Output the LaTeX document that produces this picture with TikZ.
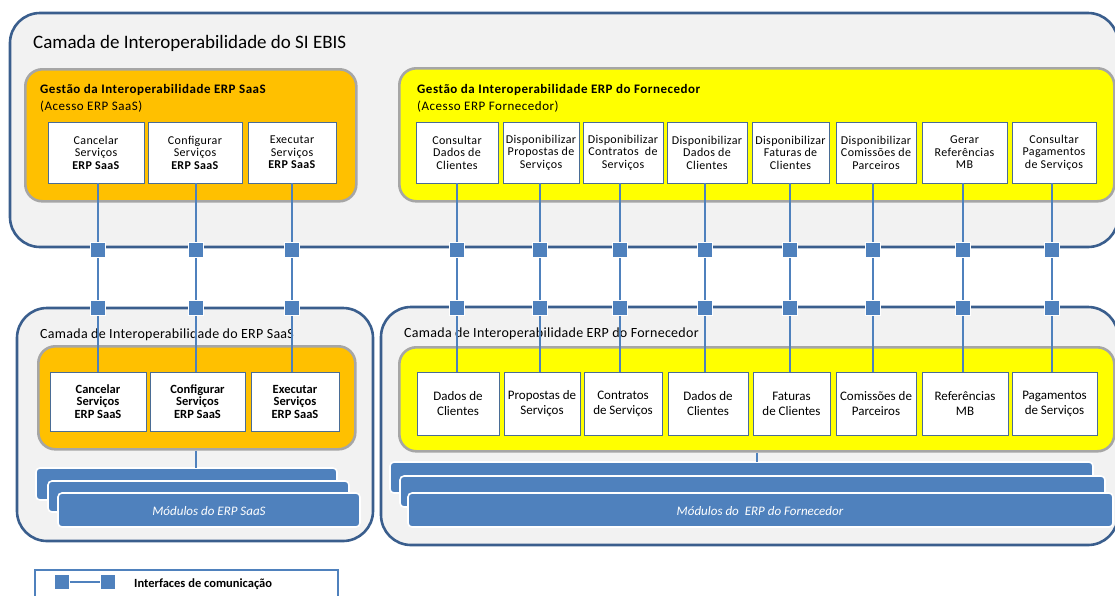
\documentclass[tikz,border=0pt]{standalone}
\usepackage{fontspec}
\setmainfont{Carlito}
\pgfdeclarelayer{fg}
\pgfsetlayers{main,fg}
\definecolor{edgeblue}{HTML}{3A5E8D}
\definecolor{paneFill}{HTML}{F2F2F2}
\definecolor{amber}{HTML}{FFC000}
\definecolor{lemon}{HTML}{FFFF00}
\definecolor{rim}{HTML}{A6A6A6}
\definecolor{steel}{HTML}{4F81BD}
\definecolor{boxline}{HTML}{4A6C95}
\tikzset{
  layerbox/.style={draw=edgeblue, line width=2.6pt, fill=paneFill, rounded corners=30pt},
  grpbox/.style={draw=rim, line width=2.6pt, rounded corners=17pt},
  svc/.style={draw=boxline, line width=0.8pt, fill=white, align=center,
    font=\fontsize{12}{12.5}\selectfont\addfontfeature{LetterSpace=3}, inner sep=0pt},
  svcb/.style={svc, font=\fontsize{13}{15}\selectfont},
  svcbb/.style={svc, font=\fontsize{12.5}{12.5}\selectfont\bfseries},
  grptitle/.style={anchor=base west, align=left, inner sep=0pt,
    font=\fontsize{13}{16.5}\selectfont\addfontfeature{LetterSpace=4}},
  laytitle/.style={anchor=base west, inner sep=0pt,
    font=\fontsize{14}{16}\selectfont\addfontfeature{LetterSpace=2}},
  port/.style={draw=white, line width=1.4pt, fill=steel, minimum size=15pt, inner sep=0pt},
  link/.style={draw=steel, line width=1.1pt},
  modbox/.style={draw=white, line width=1.6pt, fill=steel, rounded corners=4pt},
  modtext/.style={text=white, font=\fontsize{13}{15}\selectfont\itshape},
}
% style, name, centre x, centre y, width, height; the label follows
\newcommand{\svcnode}[6]{%
  \node[#1, minimum width=#5pt, minimum height=#6pt] (#2) at (#3,#4)}
\begin{document}
\begin{tikzpicture}[x=1pt,y=-1pt]
\useasboundingbox (0,0) rectangle (1115,595);
\clip (0,0) rectangle (1115,595);

% ---- upper layer: SI EBIS ----
\draw[layerbox] (10,13) rectangle (1118,247);
\node[anchor=base west, inner sep=0pt, font=\fontsize{19}{21}\selectfont] (ttop) at (33,48) {Camada de Interoperabilidade do SI EBIS};

\node[grpbox, fill=amber, minimum width=331pt, minimum height=132pt, anchor=north west] (gA) at (24,68) {};
\node[grptitle] (gAt) at (40,110) {\textbf{Gestão da Interoperabilidade ERP SaaS}\\(Acesso ERP SaaS)};

\node[grpbox, fill=lemon, minimum width=715pt, minimum height=133pt, anchor=north west] (gB) at (398,67) {};
\node[grptitle] (gBt) at (417,110) {\textbf{Gestão da Interoperabilidade ERP do Fornecedor}\\(Acesso ERP Fornecedor)};

% services (upper)
\svcnode{svc}{ta1}{96}{152.5}{96}{61} {Cancelar\\Serviços\\\textbf{ERP SaaS}};
\svcnode{svc}{ta2}{195}{152.5}{94}{61} {Configurar\\Serviços\\\textbf{ERP SaaS}};
\svcnode{svc}{ta3}{292}{152.5}{88}{61} {Executar\\Serviços\\\textbf{ERP SaaS}};

\svcnode{svc}{tb1}{457}{152.5}{82}{61} {Consultar\\Dados de\\Clientes};
\svcnode{svc}{tb2}{541}{152.5}{76}{61} {Disponibilizar\\Propostas de\\Serviços};
\svcnode{svc}{tb3}{623}{152.5}{80}{61} {Disponibilizar\\Contratos \ de\\Serviços};
\svcnode{svc}{tb4}{707}{152.5}{80}{61} {Disponibilizar\\Dados de\\Clientes};
\svcnode{svc}{tb5}{790.5}{152.5}{77}{61} {Disponibilizar\\Faturas de\\Clientes};
\svcnode{svc}{tb6}{876}{152.5}{80}{61} {Disponibilizar\\Comissões de\\Parceiros};
\svcnode{svc}{tb7}{964.5}{152.5}{85}{61} {Gerar\\Referências\\MB};
\svcnode{svc}{tb8}{1054}{152.5}{84}{61} {Consultar\\Pagamentos\\de Serviços};

% ---- lower left layer: ERP SaaS ----
\draw[layerbox] (17,308) rectangle (373,541);
\node[laytitle] (tl) at (40,338) {Camada de Interoperabilidade do ERP SaaS};
\node[grpbox, fill=amber, minimum width=317pt, minimum height=103pt, anchor=north west] (gC) at (37,345) {};

\svcnode{svcbb}{ba1}{98}{401.5}{96}{59} {Cancelar\\Serviços\\ERP SaaS};
\svcnode{svcbb}{ba2}{197.5}{401.5}{95}{59} {Configurar\\Serviços\\ERP SaaS};
\svcnode{svcbb}{ba3}{295}{401.5}{88}{59} {Executar\\Serviços\\ERP SaaS};

\draw[modbox] (36,468) rectangle (337,500);
\draw[modbox] (48,481) rectangle (349,512);
\draw[modbox] (58,493) rectangle (360,527);
\node[modtext] (mA) at (209,511) {Módulos do ERP SaaS};
\coordinate (mAtop) at (196,468);

% ---- lower right layer: ERP do Fornecedor ----
\draw[layerbox] (381,307) rectangle (1118,545);
\node[laytitle] (tr) at (404,337) {Camada de Interoperabilidade ERP do Fornecedor};
\node[grpbox, fill=lemon, minimum width=715pt, minimum height=104pt, anchor=north west] (gD) at (398,346) {};

\svcnode{svcb}{bb1}{458}{403.5}{82}{63} {Dados de\\Clientes};
\svcnode{svcb}{bb2}{542}{403.5}{76}{63} {Propostas de\\Serviços};
\svcnode{svcb}{bb3}{623}{403.5}{78}{63} {Contratos\\de Serviços};
\svcnode{svcb}{bb4}{708}{403.5}{80}{63} {Dados de\\Clientes};
\svcnode{svcb}{bb5}{791.5}{403.5}{77}{63} {Faturas\\de Clientes};
\svcnode{svcb}{bb6}{876}{403.5}{80}{63} {Comissões de\\Parceiros};
\svcnode{svcb}{bb7}{965}{403.5}{86}{63} {Referências\\MB};
\svcnode{svcb}{bb8}{1054.5}{403.5}{85}{63} {Pagamentos\\de Serviços};

\draw[modbox] (390,462) rectangle (1093,493);
\draw[modbox] (400,476) rectangle (1105,507);
\draw[modbox] (408,493) rectangle (1113,527);
\node[modtext] (mB) at (760,511) {Módulos do \ ERP do Fornecedor};
\coordinate (mBtop) at (757,462);

% ---- communication interfaces ----
\begin{pgfonlayer}{fg}
\foreach \i/\x in {1/98,2/196,3/292,4/457,5/540,6/620,7/705,8/790,9/873,10/963,11/1052}{
  \node[port] (pu\i) at (\x,250) {};
  \node[port] (pl\i) at (\x,308) {};
}
\end{pgfonlayer}

\foreach \i/\t/\b in {1/ta1/ba1,2/ta2/ba2,3/ta3/ba3,4/tb1/bb1,5/tb2/bb2,6/tb3/bb3,7/tb4/bb4,8/tb5/bb5,9/tb6/bb6,10/tb7/bb7,11/tb8/bb8}{
  \draw[link] (pu\i |- \t.south) -- (pu\i) -- (pl\i) -- (pl\i |- \b.north);
}
\draw[link] (mAtop |- gC.south) -- (mAtop);
\draw[link] (mBtop |- gD.south) -- (mBtop);

% ---- legend ----
\draw[draw=steel, line width=1.2pt] (35,570) rectangle (338,610);
\node[port, draw=none, minimum size=14pt] (lg1) at (62,582) {};
\node[port, draw=none, minimum size=14pt] (lg2) at (108,582) {};
\draw[link] (lg1) -- (lg2);
\node[anchor=base west, font=\fontsize{12.5}{14}\selectfont\bfseries, inner sep=0pt] (lgt) at (134,587) {Interfaces de comunicação};
\end{tikzpicture}
\end{document}
